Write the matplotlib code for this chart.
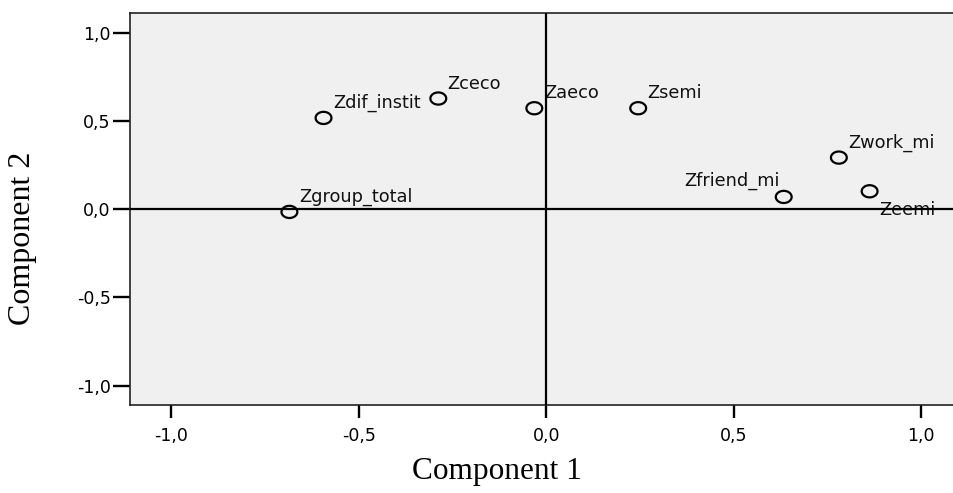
import numpy as np
import matplotlib
matplotlib.use("Agg")
import matplotlib.pyplot as plt
from matplotlib.path import Path

# ---- data ----
variables = ["Zgroup_total", "Zdif_instit", "Zceco", "Zaeco", "Zsemi",
             "Zfriend_mi", "Zwork_mi", "Zeemi"]
component1 = [-0.685, -0.594, -0.288, -0.032, 0.245, 0.633, 0.780, 0.862]
component2 = [-0.015, 0.518, 0.628, 0.573, 0.573, 0.070, 0.293, 0.102]
tick_values = [-1.0, -0.5, 0.0, 0.5, 1.0]
tick_labels = ["-1,0", "-0,5", "0,0", "0,5", "1,0"]
xlabel_text = "Component 1"
ylabel_text = "Component 2"

# label placement (offsets in points, alignment)
default_offset = (6.8, 7.2, "left")
special_offsets = {"Zfriend_mi": (-2.9, 7.9, "right"),
                   "Zeemi": (7.2, -17.3, "left")}

fig = plt.figure(figsize=(9.54, 4.93), dpi=100)
ax = fig.add_axes([130/954, (493-405)/493, (954-130)/954, (405-13)/493])
ax.set_facecolor("#f0f0f0")
ax.set_xlim(-1.110, 1.087)
ax.set_ylim(-1.110, 1.113)

ax.axhline(0, color="black", lw=1.6, zorder=3)
ax.axvline(0, color="black", lw=1.6, zorder=3)

# elliptical open marker
t = np.linspace(0, 2*np.pi, 60)
ell = Path(np.column_stack([1.3*np.cos(t), np.sin(t)]), closed=True)
ax.scatter(component1, component2, marker=ell, s=130, facecolors="none",
           edgecolors="black", linewidths=1.6, zorder=4)

for name, x, y in zip(variables, component1, component2):
    dx, dy, ha = special_offsets.get(name, default_offset)
    ax.annotate(name, (x, y), xytext=(dx, dy), textcoords="offset points",
                ha=ha, va="baseline", fontsize=12.8, family="DejaVu Sans",
                color="#111111", zorder=2)

ax.set_xticks(tick_values)
ax.set_xticklabels(tick_labels)
ax.set_yticks(tick_values)
ax.set_yticklabels(tick_labels)
ax.tick_params(axis="x", direction="out", length=9.5, width=1.7, pad=6.5,
               labelsize=12.5, color="black")
ax.tick_params(axis="y", direction="out", length=12, width=1.7, pad=2,
               labelsize=12.5, color="black")

for side in ["left", "bottom", "top"]:
    ax.spines[side].set_color("#222222")
    ax.spines[side].set_linewidth(1.2)
ax.spines["right"].set_visible(False)

fig.text(497/954, 1 - 472/493, xlabel_text, ha="center", va="center",
         fontsize=22.5, family="Liberation Serif")
fig.text(23/954, 1 - 238/493, ylabel_text, ha="center", va="center",
         rotation=90, fontsize=23, family="Liberation Serif")

fig.savefig("out.png", dpi=100)
